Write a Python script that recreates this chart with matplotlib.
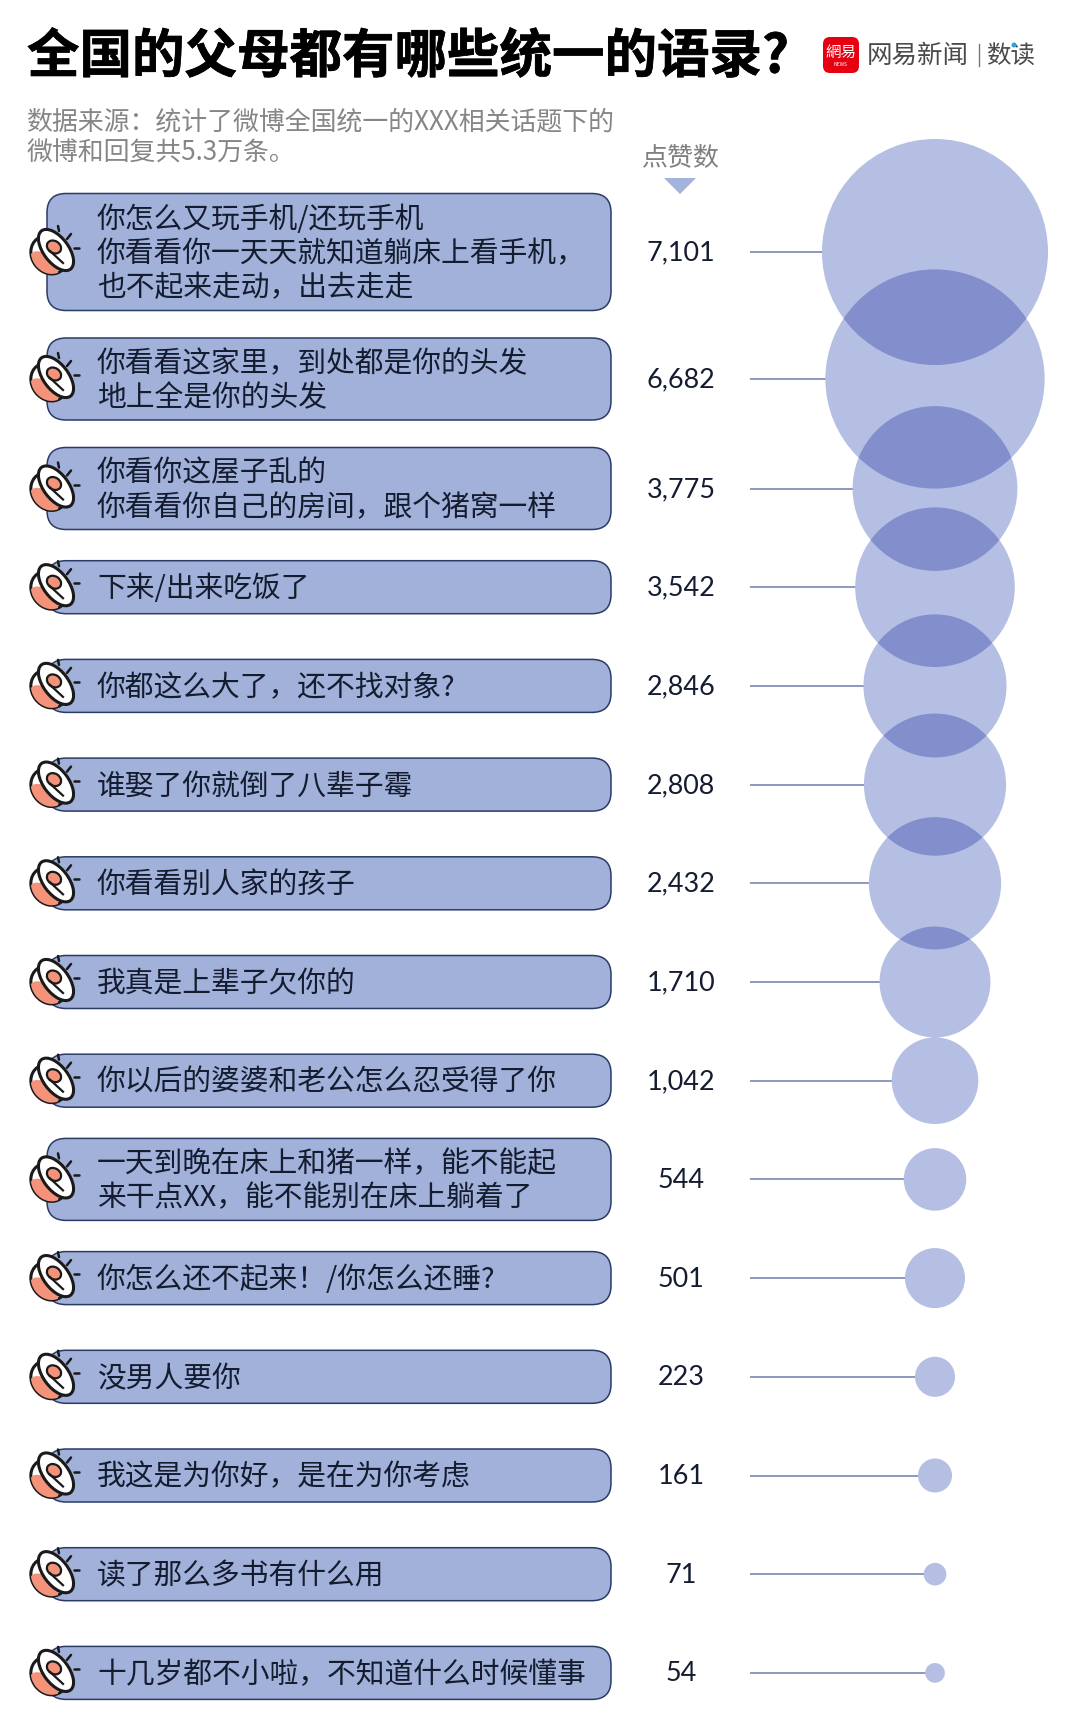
import numpy as np
import matplotlib
matplotlib.use("Agg")
import matplotlib.pyplot as plt
import matplotlib.patheffects as pe
from matplotlib.patches import Circle, Ellipse, FancyBboxPatch, Polygon

plt.rcParams['font.family'] = ['Noto Sans CJK SC', 'DejaVu Sans']

# data
quotes = [
    "你怎么又玩手机/还玩手机\n你看看你一天天就知道躺床上看手机，\n也不起来走动，出去走走",
    "你看看这家里，到处都是你的头发\n地上全是你的头发",
    "你看你这屋子乱的\n你看看你自己的房间，跟个猪窝一样",
    "下来/出来吃饭了",
    "你都这么大了，还不找对象?",
    "谁娶了你就倒了八辈子霉",
    "你看看别人家的孩子",
    "我真是上辈子欠你的",
    "你以后的婆婆和老公怎么忍受得了你",
    "一天到晚在床上和猪一样，能不能起\n来干点XX，能不能别在床上躺着了",
    "你怎么还不起来！/你怎么还睡?",
    "没男人要你",
    "我这是为你好，是在为你考虑",
    "读了那么多书有什么用",
    "十几岁都不小啦，不知道什么时候懂事",
]
likes = [7101, 6682, 3775, 3542, 2846, 2808, 2432, 1710, 1042, 544, 501, 223, 161, 71, 54]

title = "全国的父母都有哪些统一的语录?"
source = ["数据来源：统计了微博全国统一的XXX相关话题下的", "微博和回复共5.3万条。"]
likes_header = "点赞数"

# colours
BOX = "#a2b1d9"
BOX_EDGE = "#2b3b68"
BUBBLE = "#b5bfe4"
OVERLAP = "#828fcc"
TEXT = "#141c30"

W, H = 1080, 1729
fig = plt.figure(figsize=(W / 100, H / 100), dpi=100)
ax = fig.add_axes([0, 0, 1, 1])
ax.set_xlim(0, W)
ax.set_ylim(H, 0)
ax.axis("off")


def px(size):
    # font size given in image pixels
    return size * 0.72


def draw_icon(cy):
    cx = 53
    ang = 53
    bowl = Ellipse((cx - 4, cy + 3), 40, 34, angle=ang, fc="white", ec="#1a1a1a", lw=2.2, zorder=5)
    ax.add_patch(bowl)
    fill = Ellipse((cx - 9, cy + 13), 34, 20, angle=ang - 10, fc="#f4937a", ec="none", zorder=5.1)
    ax.add_patch(fill)
    fill.set_clip_path(bowl)
    ax.add_patch(Ellipse((cx + 3, cy - 2), 48, 25, angle=ang, fc="white", ec="#1a1a1a", lw=2.2, zorder=5.2))
    ax.add_patch(Ellipse((cx + 1, cy - 5), 15, 12, angle=ang - 20, fc="#f4937a", ec="#1a1a1a", lw=1.6, zorder=5.3))
    ax.plot([cx - 3, cx + 10], [cy - 1, cy + 11], color="#1a1a1a", lw=1.6, zorder=5.4)
    for x0, y0, x1, y1 in [(5, -26, 6, -21), (14, -13, 18, -18), (21, -4, 26, -4)]:
        ax.plot([cx + x0, cx + x1], [cy + y0, cy + y1], color="#1a1a1a", lw=1.8,
                solid_capstyle="round", zorder=5.4)


# rows stack from the number of text lines
heights = {1: 53, 2: 82, 3: 117}
line_counts = [q.count("\n") + 1 for q in quotes]
row_y = [252.0]
for a, b in zip(line_counts[:-1], line_counts[1:]):
    row_y.append(row_y[-1] + max(98.7, (heights[a] + heights[b]) / 2 + 27.5))

# header
ax.text(27, 57, title, fontsize=px(52.5), fontweight="bold", color="black", va="center", ha="left",
        path_effects=[pe.withStroke(linewidth=0.5, foreground="black")])
for i, s in enumerate(source):
    ax.text(27, 122 + i * 31, s, fontsize=px(25.9), color="#868686", va="center", ha="left")
ax.text(681, 158, likes_header, fontsize=px(26), color="#808080", va="center", ha="center")
ax.add_patch(Polygon([(664, 178), (696, 178), (680, 194)], closed=True, fc="#a4b3dc", ec="none"))

# logo
ax.add_patch(FancyBboxPatch((823, 37), 36, 36, boxstyle="round,pad=0,rounding_size=7", fc="#e60012", ec="none"))
ax.text(841, 52, "網易", family=["Noto Sans CJK TC"], fontsize=px(15.5), color="white", va="center", ha="center")
ax.text(841, 64, "NEWS", fontsize=px(5), color="white", va="center", ha="center")
ax.text(867, 56, "网易新闻", fontsize=px(25.5), color="#4a4a4a", va="center", ha="left")
ax.plot([979, 979], [44, 66], color="#777777", lw=1.0)
ax.text(986, 56, "数读", fontsize=px(24.5), color="#4a4a4a", va="center", ha="left")
ax.add_patch(Circle((1014, 45), 2.5, fc="#2f9fe0", ec="none", zorder=3))

# quote boxes and labels
for q, y, n, v in zip(quotes, row_y, line_counts, likes):
    h = heights[n]
    ax.add_patch(FancyBboxPatch((47, y - h / 2), 564, h, boxstyle="round,pad=0,rounding_size=19",
                                fc=BOX, ec=BOX_EDGE, lw=1.1, zorder=2))
    for j, line in enumerate(q.split("\n")):
        ax.text(97, y + 2 + (j - (n - 1) / 2) * 34.5, line, fontsize=px(28.8), color=TEXT,
                va="center", ha="left", zorder=3)
    ax.text(681, y + 1, f"{v:,}", family=["Lato"], fontsize=px(27), color=TEXT, va="center", ha="center")
    draw_icon(y)

# bubbles, area follows the count
BUBBLE_X = 935
radii = 1.341 * np.sqrt(likes)
ax.hlines(row_y, 750, BUBBLE_X, color="#6f7cae", lw=1.1, zorder=1)
circles = []
for y, r in zip(row_y, radii):
    c = Circle((BUBBLE_X, y), r, fc=BUBBLE, ec="none", zorder=2)
    ax.add_patch(c)
    circles.append(c)
# multiply look where neighbouring bubbles overlap
for i in range(len(circles) - 1):
    over = Circle((BUBBLE_X, row_y[i]), radii[i], fc=OVERLAP, ec="none", zorder=2.5)
    ax.add_patch(over)
    over.set_clip_path(circles[i + 1])

fig.savefig("out.png", dpi=100)
